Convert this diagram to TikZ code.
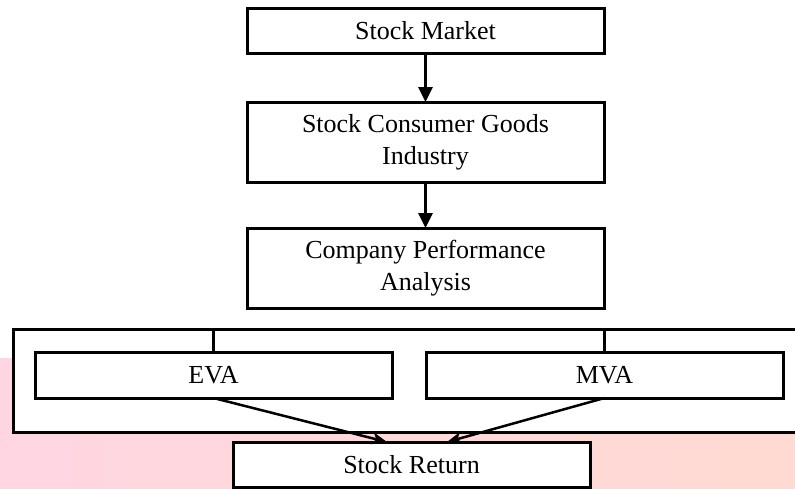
\documentclass[tikz,border=0pt]{standalone}
\usepackage{fontspec}
\setmainfont{Liberation Serif}
\usetikzlibrary{arrows.meta,calc}
\definecolor{bgpink}{RGB}{255,214,226}
\definecolor{bgpeach}{RGB}{255,218,210}
\begin{document}
\begin{tikzpicture}[x=1pt,y=-1pt,
  box/.style={draw,line width=3pt,fill=white,minimum width=357pt,inner sep=0pt,outer sep=0pt,align=center,font=\fontsize{26}{32}\selectfont},
  group/.style={draw,line width=3pt,fill=white,inner sep=0pt,outer sep=0pt},
  arr/.style={line width=3pt,-{Triangle[length=15pt,width=14pt]}},
  arrb/.style={line width=2.5pt,-{Stealth[length=15pt,width=12pt,inset=4pt]}},
  link/.style={line width=2.5pt}]
\useasboundingbox (0,0) rectangle (795,488);
\clip (0,0) rectangle (795,488);
\shade[left color=bgpink,right color=bgpeach] (0,358) rectangle (795,488);
\node[box,minimum height=45pt] (mkt) at (425.5,30.5) {Stock Market};
\node[box,minimum height=80pt] (ind) at (425.5,142) {Stock Consumer Goods\\Industry};
\node[box,minimum height=80pt] (perf) at (425.5,268) {Company Performance\\Analysis};
\node[group,minimum width=800pt,minimum height=103pt,anchor=north west] (grp) at (13,329) {};
\node[box,minimum height=46pt] (eva) at (213.5,375) {EVA};
\node[box,minimum height=46pt] (mva) at (604.5,375) {MVA};
\node[box,minimum height=45pt] (ret) at (411.5,464.5) {Stock Return};
\draw[arr] (mkt) -- (ind);
\draw[arr] (ind) -- (perf);
\draw[link] (eva.north) -- (eva.north |- grp.north);
\draw[link] (mva.north) -- (mva.north |- grp.north);
\draw[arrb] (eva.south) -- ($(ret.north)+(-24.5,0)$);
\draw[arrb] (mva.south) -- ($(ret.north)+(35.5,0)$);
\end{tikzpicture}
\end{document}
